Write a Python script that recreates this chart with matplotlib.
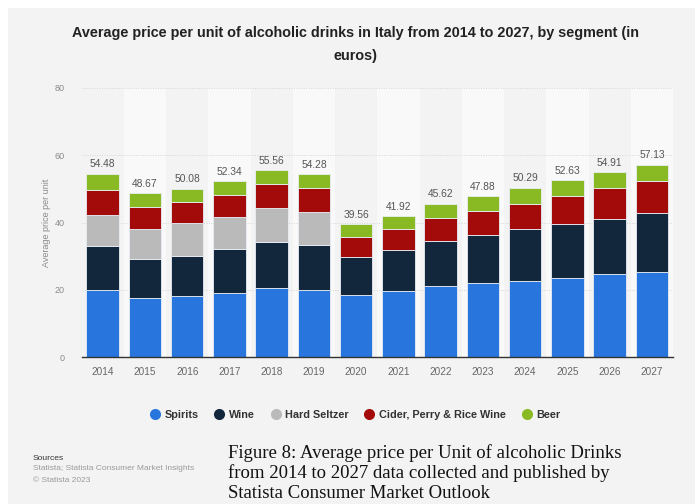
import matplotlib.pyplot as plt
import numpy as np
from matplotlib.lines import Line2D
from matplotlib.patches import Rectangle

# average price per unit (euros), by segment
years = [str(y) for y in range(2014, 2028)]
spirits = [20.0, 17.7, 18.3, 19.2, 20.7, 20.0, 18.4, 19.8, 21.2, 22.0, 22.7, 23.5, 24.6, 25.3]
wine = [13.0, 11.4, 11.8, 12.8, 13.6, 13.2, 11.5, 11.9, 13.3, 14.3, 15.3, 16.0, 16.4, 17.4]
hard_seltzer = [9.1, 9.0, 9.8, 9.6, 10.0, 10.0, 0, 0, 0, 0, 0, 0, 0, 0]
cider = [7.6, 6.6, 6.2, 6.6, 7.1, 7.1, 5.7, 6.3, 6.8, 7.1, 7.6, 8.5, 9.1, 9.5]
beer = [4.78, 3.97, 3.98, 4.14, 4.16, 3.98, 3.96, 3.92, 4.32, 4.48, 4.69, 4.63, 4.81, 4.93]

segments = ["Spirits", "Wine", "Hard Seltzer", "Cider, Perry & Rice Wine", "Beer"]
colors = ["#2876dd", "#12263c", "#bababa", "#a30b0b", "#8aba23"]
series = [spirits, wine, hard_seltzer, cider, beer]

W, H = 695, 504
plt.rcParams["font.family"] = ["Liberation Sans", "DejaVu Sans"]

fig = plt.figure(figsize=(W / 100, H / 100), dpi=100)
fig.patch.set_facecolor("white")
# grey card behind everything
fig.patches.append(Rectangle((8 / W, 0), 1 - 8 / W, 1 - 8 / H,
                             transform=fig.transFigure, facecolor="#f3f3f3",
                             edgecolor="none", zorder=-10))

ax = fig.add_axes([81.6 / W, 146.7 / H, 591.4 / W, 269.6 / H])
ax.set_facecolor("none")

x = np.arange(len(years))
# alternating column bands
for i in x:
    if i % 2 == 1:
        ax.axvspan(i - 0.5, i + 0.5, color="#f9f9f9", zorder=0, lw=0)

for yv in [20, 40, 60, 80]:
    ax.axhline(yv, color="#d6d6d6", lw=0.7, ls=(0, (1, 1.5)), zorder=1)

bottom = np.zeros(len(years))
for name, vals, col in zip(segments, series, colors):
    vals = np.array(vals, dtype=float)
    ax.bar(x, vals, bottom=bottom, width=0.77, color=col, edgecolor="#e8eef5",
           linewidth=0.6, zorder=2)
    bottom += vals

for xi, tot in zip(x, bottom):
    ax.text(xi, tot + 1.3, f"{tot:.2f}", ha="center", va="bottom",
            fontsize=7.4, color="#555555")

ax.set_xlim(-0.5, len(years) - 0.5)
ax.set_ylim(0, 80)
ax.set_xticks(x)
ax.set_xticklabels(years, fontsize=7.2, color="#666666")
ax.set_yticks([0, 20, 40, 60, 80])
ax.set_yticklabels(["0", "20", "40", "60", "80"], fontsize=6.5, color="#8a8a8a")
ax.tick_params(axis="x", length=0, pad=7)
ax.tick_params(axis="y", length=0, pad=12)
for s in ["top", "right", "left"]:
    ax.spines[s].set_visible(False)
ax.spines["bottom"].set_color("#333333")
ax.spines["bottom"].set_linewidth(1.0)
ax.spines["bottom"].set_zorder(3)
ax.set_ylabel("Average price per unit", fontsize=6.5, color="#8a8a8a", labelpad=3)

fig.text(356 / W, 1 - 26 / H,
         "Average price per unit of alcoholic drinks in Italy from 2014 to 2027, by segment (in\neuros)",
         ha="center", va="top", fontsize=10.4, fontweight="bold", color="#222222",
         linespacing=1.85)

handles = [Line2D([], [], marker="o", ls="none", markersize=8, markerfacecolor=c,
                  markeredgecolor="none") for c in colors]
leg = fig.legend(handles, segments, loc="center", bbox_to_anchor=(355 / W, 1 - 415 / H),
                 ncol=5, frameon=False, fontsize=7.8, handletextpad=0.4,
                 columnspacing=1.4, handlelength=1.0)
for t in leg.get_texts():
    t.set_fontweight("bold")
    t.set_color("#333333")

fig.text(33 / W, 1 - 458 / H, "Sources", fontsize=6.1, color="#333333", va="center")
fig.text(33 / W, 1 - 469 / H, "Statista; Statista Consumer Market Insights",
         fontsize=6.0, color="#9a9a9a", va="center")
fig.text(33 / W, 1 - 481 / H, "\u00a9 Statista 2023", fontsize=6.0, color="#9a9a9a",
         va="center")

caption = ["Figure 8: Average price per Unit of alcoholic Drinks",
           "from 2014 to 2027 data collected and published by",
           "Statista Consumer Market Outlook"]
for line, yy in zip(caption, [453, 473, 494]):
    fig.text(228 / W, 1 - yy / H, line, fontsize=13.5, family="Liberation Serif",
             color="#111111", va="center")

fig.savefig("out.png", dpi=100)
